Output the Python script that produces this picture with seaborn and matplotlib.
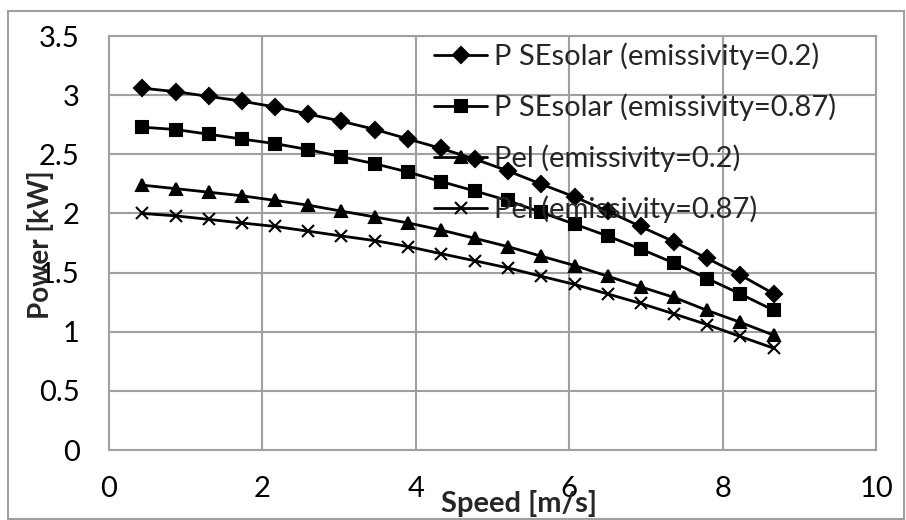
import matplotlib
matplotlib.use("Agg")
import matplotlib.pyplot as plt
import matplotlib.ticker as mticker
from matplotlib.patches import Rectangle
import seaborn as sns
import pandas as pd

# Data
speed = [0.43, 0.87, 1.30, 1.73, 2.17, 2.60, 3.03, 3.47, 3.90, 4.33,
         4.77, 5.20, 5.63, 6.07, 6.50, 6.93, 7.37, 7.80, 8.23, 8.67]
p_se_02 = [3.06, 3.03, 2.99, 2.95, 2.90, 2.84, 2.78, 2.71, 2.63, 2.55,
           2.46, 2.36, 2.25, 2.14, 2.02, 1.89, 1.76, 1.62, 1.48, 1.32]
p_se_087 = [2.73, 2.71, 2.67, 2.63, 2.59, 2.54, 2.48, 2.42, 2.35, 2.27,
            2.19, 2.11, 2.01, 1.91, 1.81, 1.70, 1.58, 1.45, 1.32, 1.18]
pel_02 = [2.24, 2.21, 2.18, 2.15, 2.11, 2.07, 2.02, 1.97, 1.92, 1.86,
          1.79, 1.72, 1.64, 1.56, 1.47, 1.38, 1.29, 1.18, 1.08, 0.97]
pel_087 = [2.00, 1.98, 1.95, 1.92, 1.89, 1.85, 1.81, 1.77, 1.72, 1.66,
           1.60, 1.54, 1.47, 1.40, 1.32, 1.24, 1.15, 1.06, 0.96, 0.86]
series_names = ["P SEsolar (emissivity=0.2)", "P SEsolar (emissivity=0.87)",
                "Pel (emissivity=0.2)", "Pel (emissivity=0.87)"]
series_vals = [p_se_02, p_se_087, pel_02, pel_087]
series_markers = ["D", "s", "^", "x"]
series_msize = [8, 9, 9, 9]

sns.set_style("white")
plt.rcParams["font.family"] = ["Lato", "DejaVu Sans"]

fig = plt.figure(figsize=(9.06, 5.20), dpi=100)
ax = fig.add_axes([0.1203, 0.1346, 0.8466, 0.796])

grid_col = "#a0a0a0"
for name, vals, mk, ms in zip(series_names, series_vals, series_markers, series_msize):
    df = pd.DataFrame({"Speed": speed, "Power": vals})
    sns.lineplot(data=df, x="Speed", y="Power", color="black", marker=mk,
                 markersize=ms, markeredgewidth=1.5, markeredgecolor="black",
                 linewidth=2.0, label=name, ax=ax, zorder=3)

ax.set_xlim(0, 10)
ax.set_ylim(0, 3.5)
ax.set_xticks(range(0, 11, 2))
ax.set_yticks([i * 0.5 for i in range(8)])
ax.yaxis.set_major_formatter(mticker.FormatStrFormatter("%g"))
ax.grid(True, color=grid_col, linewidth=1.5)
ax.set_axisbelow(True)
for sp in ax.spines.values():
    sp.set_color(grid_col)
    sp.set_linewidth(1.5)
ax.tick_params(axis="both", direction="out", length=7, width=1.5,
               color=grid_col, labelsize=21, labelcolor="black")
ax.tick_params(axis="x", pad=12)
ax.tick_params(axis="y", pad=14)

ax.set_xlabel("Speed [m/s]", fontsize=21, fontweight="bold")
ax.set_ylabel("Power [kW]", fontsize=20, fontweight="bold")
ax.xaxis.set_label_coords(0.535, -0.097)
ax.yaxis.set_label_coords(-0.072, 0.495)

ax.legend(loc="upper left", bbox_to_anchor=(0.409, 1.012), frameon=False,
          fontsize=21, handlelength=1.8, handletextpad=0.25,
          labelspacing=0.8, borderaxespad=0)

fig.patches.append(Rectangle((8 / 906, 0.002), 896 / 906, 1 - 11 / 520 - 0.002,
                             transform=fig.transFigure, fill=False,
                             edgecolor=grid_col, linewidth=1.5))

fig.savefig("out.png", dpi=100)
